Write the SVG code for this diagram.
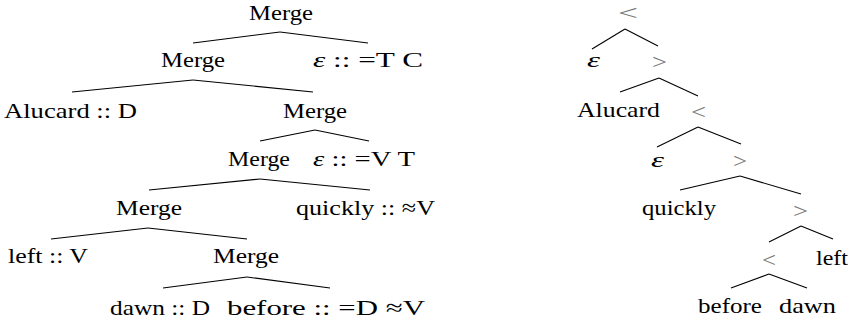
<svg xmlns="http://www.w3.org/2000/svg" width="853" height="325" viewBox="0 0 853 325">
<style>
  text { font-family: "Liberation Serif", "DejaVu Serif", serif; font-size: 22px; fill: #000; }
  .it { font-style: italic; }
  .op { fill: #777; }
  .edge line { stroke: #000; stroke-width: 1.1; }
</style>
<rect width="853" height="325" fill="#fff"/>
<g id="connectors" class="edge">
  <line x1="280" y1="32" x2="193" y2="43"/>
  <line x1="280" y1="32" x2="368" y2="43"/>
  <line x1="193" y1="80" x2="72" y2="92"/>
  <line x1="193" y1="80" x2="313" y2="92"/>
  <line x1="315" y1="130" x2="260" y2="141"/>
  <line x1="315" y1="130" x2="369" y2="141"/>
  <line x1="260" y1="179" x2="149" y2="190"/>
  <line x1="260" y1="179" x2="370" y2="190"/>
  <line x1="148" y1="228" x2="51" y2="239"/>
  <line x1="148" y1="228" x2="247" y2="239"/>
  <line x1="247" y1="277" x2="163" y2="288"/>
  <line x1="247" y1="277" x2="330" y2="288"/>
  <line x1="625" y1="29" x2="592" y2="49"/>
  <line x1="625" y1="29" x2="658" y2="46"/>
  <line x1="659" y1="78" x2="620" y2="92"/>
  <line x1="659" y1="78" x2="698" y2="96"/>
  <line x1="698" y1="127" x2="657" y2="147"/>
  <line x1="698" y1="127" x2="741" y2="144"/>
  <line x1="740" y1="176" x2="680" y2="190"/>
  <line x1="740" y1="176" x2="801" y2="194"/>
  <line x1="801" y1="226" x2="769" y2="242"/>
  <line x1="801" y1="226" x2="833" y2="239"/>
  <line x1="769" y1="274" x2="731" y2="288"/>
  <line x1="769" y1="274" x2="807" y2="288"/>
</g>
<g id="m1"><text x="249" y="20" textLength="64" lengthAdjust="spacingAndGlyphs">Merge</text></g>
<g id="m2"><text x="161" y="67" textLength="64" lengthAdjust="spacingAndGlyphs">Merge</text></g>
<g id="eTC"><text x="313" y="67" textLength="110" lengthAdjust="spacingAndGlyphs"><tspan class="it">ε</tspan> :: =T C</text></g>
<g id="alucardD"><text x="4" y="118" textLength="133" lengthAdjust="spacingAndGlyphs">Alucard :: D</text></g>
<g id="m3"><text x="283" y="118" textLength="64" lengthAdjust="spacingAndGlyphs">Merge</text></g>
<g id="m4"><text x="228" y="166" textLength="62" lengthAdjust="spacingAndGlyphs">Merge</text></g>
<g id="eVT"><text x="313" y="166" textLength="102" lengthAdjust="spacingAndGlyphs"><tspan class="it">ε</tspan> :: =V T</text></g>
<g id="m5"><text x="116" y="215" textLength="66" lengthAdjust="spacingAndGlyphs">Merge</text></g>
<g id="quicklyV"><text x="296" y="215" textLength="139" lengthAdjust="spacingAndGlyphs">quickly :: ≈V</text></g>
<g id="leftV"><text x="8" y="263" textLength="80" lengthAdjust="spacingAndGlyphs">left :: V</text></g>
<g id="m6"><text x="213" y="263" textLength="66" lengthAdjust="spacingAndGlyphs">Merge</text></g>
<g id="dawnD"><text x="110" y="315" textLength="100" lengthAdjust="spacingAndGlyphs">dawn :: D</text></g>
<g id="beforeDV"><text x="227" y="315" textLength="198" lengthAdjust="spacingAndGlyphs">before :: =D ≈V</text></g>

<g id="r1"><text class="op" x="618" y="20" textLength="20" lengthAdjust="spacingAndGlyphs">&lt;</text></g>
<g id="re1"><text class="it" x="587" y="67" textLength="13" lengthAdjust="spacingAndGlyphs">ε</text></g>
<g id="r2"><text class="op" x="652" y="69" textLength="15" lengthAdjust="spacingAndGlyphs">&gt;</text></g>
<g id="ralucard"><text x="577" y="117" textLength="83" lengthAdjust="spacingAndGlyphs">Alucard</text></g>
<g id="r3"><text class="op" x="691" y="119" textLength="15" lengthAdjust="spacingAndGlyphs">&lt;</text></g>
<g id="re2"><text class="it" x="651" y="167" textLength="13" lengthAdjust="spacingAndGlyphs">ε</text></g>
<g id="r4"><text class="op" x="733" y="168" textLength="14" lengthAdjust="spacingAndGlyphs">&gt;</text></g>
<g id="rquickly"><text x="642" y="215" textLength="74" lengthAdjust="spacingAndGlyphs">quickly</text></g>
<g id="r5"><text class="op" x="793" y="218" textLength="15" lengthAdjust="spacingAndGlyphs">&gt;</text></g>
<g id="r6"><text class="op" x="762" y="267" textLength="14" lengthAdjust="spacingAndGlyphs">&lt;</text></g>
<g id="rleft"><text x="816" y="265" textLength="32" lengthAdjust="spacingAndGlyphs">left</text></g>
<g id="rbefore"><text x="698" y="313" textLength="64" lengthAdjust="spacingAndGlyphs">before</text></g>
<g id="rdawn"><text x="779" y="313" textLength="57" lengthAdjust="spacingAndGlyphs">dawn</text></g>
</svg>
